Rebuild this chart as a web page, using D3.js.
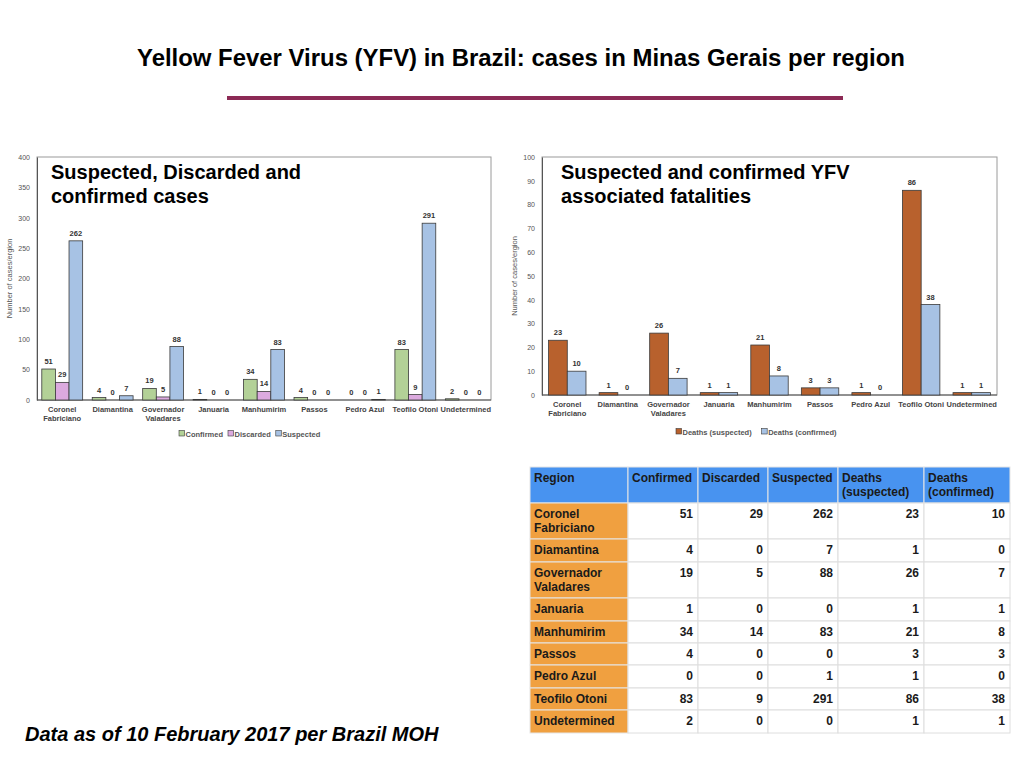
<!DOCTYPE html>
<html>
<head>
<meta charset="utf-8">
<script src="https://cdn.jsdelivr.net/npm/d3@7"></script>
<style>
  body { margin: 0; background: #fff; }
  svg { display: block; font-family: "Liberation Sans", Arial, sans-serif; }
</style>
</head>
<body>
<div id="vis"></div>
<script>
// YFV Minas Gerais per region
const regions = ["Coronel Fabriciano", "Diamantina", "Governador Valadares", "Januaria",
  "Manhumirim", "Passos", "Pedro Azul", "Teofilo Otoni", "Undetermined"];
const axisLabels = [["Coronel", "Fabriciano"], ["Diamantina"], ["Governador", "Valadares"], ["Januaria"],
  ["Manhumirim"], ["Passos"], ["Pedro Azul"], ["Teofilo  Otoni"], ["Undetermined"]];
const tableLabels = [["Coronel", "Fabriciano"], ["Diamantina"], ["Governador", "Valadares"], ["Januaria"],
  ["Manhumirim"], ["Passos"], ["Pedro Azul"], ["Teofilo Otoni"], ["Undetermined"]];

const confirmed = [51, 4, 19, 1, 34, 4, 0, 83, 2];
const discarded = [29, 0, 5, 0, 14, 0, 0, 9, 0];
const suspected = [262, 7, 88, 0, 83, 0, 1, 291, 0];
const deathsSuspected = [23, 1, 26, 1, 21, 3, 1, 86, 1];
const deathsConfirmed = [10, 0, 7, 1, 8, 3, 0, 38, 1];

const casesTicks = [0, 50, 100, 150, 200, 250, 300, 350, 400];
const deathTicks = [0, 10, 20, 30, 40, 50, 60, 70, 80, 90, 100];
const tableHeaders = [["Region"], ["Confirmed"], ["Discarded"], ["Suspected"],
  ["Deaths", "(suspected)"], ["Deaths", "(confirmed)"]];

const width = 1024, height = 768;
const svg = d3.select("#vis").append("svg")
  .attr("width", width).attr("height", height);

// Title + rule
svg.append("text")
  .attr("x", 137).attr("y", 66)
  .attr("font-size", "23px").attr("font-weight", "bold")
  .attr("textLength", 768).attr("lengthAdjust", "spacingAndGlyphs")
  .text("Yellow Fever Virus (YFV) in Brazil: cases in Minas Gerais per region");

svg.append("rect")
  .attr("x", 227).attr("y", 96).attr("width", 616).attr("height", 4)
  .attr("fill", "#8c2a55");

const small = "7.5px";

function barChart(opt) {
  const g = svg.append("g");
  const x0 = d3.scaleBand().domain(regions).range([opt.left, opt.right])
    .paddingInner(opt.pad).paddingOuter(opt.pad / 2);
  const x1 = d3.scaleBand().domain(opt.series.map(s => s.name)).range([0, x0.bandwidth()]);
  const y = d3.scaleLinear().domain([0, opt.max]).range([opt.bottom, opt.top]);

  // frame
  g.append("rect")
    .attr("x", opt.left).attr("y", opt.top)
    .attr("width", opt.right - opt.left).attr("height", opt.bottom - opt.top)
    .attr("fill", "none").attr("stroke", "#9a9a9a").attr("stroke-width", 1);

  const ya = g.append("g")
    .attr("transform", `translate(${opt.left},0)`)
    .call(d3.axisLeft(y).tickValues(opt.ticks).tickSize(0).tickPadding(7));
  ya.select(".domain").attr("stroke", "#555");
  ya.selectAll("text").attr("font-size", "7px").attr("fill", "#555")
    .attr("font-family", "'Liberation Sans', sans-serif");

  g.append("line")
    .attr("x1", opt.left).attr("x2", opt.right)
    .attr("y1", opt.bottom).attr("y2", opt.bottom)
    .attr("stroke", "#555");

  g.append("text")
    .attr("transform", `translate(${opt.left - 25},${(opt.top + opt.bottom) / 2}) rotate(-90)`)
    .attr("text-anchor", "middle")
    .attr("font-size", small).attr("fill", "#555")
    .text("Number of cases/ergion");

  // bars
  opt.series.forEach(s => {
    const grp = g.append("g");
    grp.selectAll("rect")
      .data(regions.map((r, i) => ({ r, v: s.values[i] })))
      .join("rect")
      .attr("x", d => x0(d.r) + x1(s.name))
      .attr("y", d => y(d.v))
      .attr("width", x1.bandwidth())
      .attr("height", d => opt.bottom - y(d.v))
      .attr("fill", s.color)
      .attr("stroke", d => d.v > 0 ? "#3a3a3a" : "none")
      .attr("stroke-width", 0.8);
    grp.selectAll("text")
      .data(regions.map((r, i) => ({ r, v: s.values[i] })))
      .join("text")
      .attr("x", d => x0(d.r) + x1(s.name) + x1.bandwidth() / 2)
      .attr("y", d => y(d.v) - 5)
      .attr("text-anchor", "middle")
      .attr("font-size", small).attr("font-weight", "bold").attr("fill", "#333")
      .text(d => d.v);
  });

  // category labels
  const cl = g.selectAll(".cat")
    .data(regions.map((r, i) => ({ r, lines: axisLabels[i] })))
    .join("text")
    .attr("x", d => x0(d.r) + x0.bandwidth() / 2)
    .attr("y", opt.bottom + 12)
    .attr("text-anchor", "middle")
    .attr("font-size", small).attr("font-weight", "bold").attr("fill", "#444");
  cl.selectAll("tspan").data(d => d.lines).join("tspan")
    .attr("x", function () { return d3.select(this.parentNode).attr("x"); })
    .attr("dy", (d, i) => i === 0 ? 0 : 9)
    .text(d => d);

  // chart title
  const t = g.append("text")
    .attr("x", opt.titleX).attr("y", 179)
    .attr("font-size", "20px").attr("font-weight", "bold").attr("fill", "#000");
  t.selectAll("tspan").data(opt.title).join("tspan")
    .attr("x", opt.titleX).attr("dy", (d, i) => i === 0 ? 0 : 24)
    .text(d => d);

  // legend
  const lg = g.append("g").attr("transform", `translate(${opt.legendX},${opt.legendY})`);
  let off = 0;
  opt.series.forEach(s => {
    lg.append("rect")
      .attr("x", off).attr("y", -3.5).attr("width", 5.5).attr("height", 5.5)
      .attr("fill", s.color).attr("stroke", "#3a3a3a").attr("stroke-width", 0.6);
    const tx = lg.append("text")
      .attr("x", off + 6.5).attr("y", 2.5)
      .attr("font-size", small).attr("font-weight", "bold").attr("fill", "#555")
      .text(s.name);
    off += 6.5 + tx.node().getComputedTextLength() + opt.legendGap;
  });
}

barChart({
  left: 37, right: 491, top: 157, bottom: 400, max: 400, pad: 0.19,
  ticks: casesTicks,
  series: [
    { name: "Confirmed", values: confirmed, color: "#b3d197" },
    { name: "Discarded", values: discarded, color: "#dcaadf" },
    { name: "Suspected", values: suspected, color: "#a7c2e4" }
  ],
  title: ["Suspected, Discarded and", "confirmed cases"], titleX: 51,
  legendX: 179, legendY: 434, legendGap: 5
});

barChart({
  left: 542, right: 997, top: 157, bottom: 395, max: 100, pad: 0.26,
  ticks: deathTicks,
  series: [
    { name: "Deaths (suspected)", values: deathsSuspected, color: "#b8612d" },
    { name: "Deaths (confirmed)", values: deathsConfirmed, color: "#a7c2e4" }
  ],
  title: ["Suspected and confirmed YFV", "associated fatalities"], titleX: 561,
  legendX: 676, legendY: 432, legendGap: 10
});

// Table
const colEdges = [530, 628, 698, 768, 838, 924, 1010];
const rowEdges = [467, 503, 539, 562, 598, 621, 643, 665, 688, 710, 733];
const tableRows = regions.map((r, i) =>
  [tableLabels[i], [confirmed[i]], [discarded[i]], [suspected[i]], [deathsSuspected[i]], [deathsConfirmed[i]]]);
const allRows = [tableHeaders].concat(tableRows);

const tbl = svg.append("g").attr("font-size", "12px").attr("font-weight", "bold");
allRows.forEach((row, ri) => {
  row.forEach((cell, ci) => {
    const x = colEdges[ci], w = colEdges[ci + 1] - colEdges[ci];
    const yTop = rowEdges[ri], h = rowEdges[ri + 1] - rowEdges[ri];
    const fill = ri === 0 ? "#4893f0" : (ci === 0 ? "#f0a040" : "#ffffff");
    tbl.append("rect")
      .attr("x", x).attr("y", yTop).attr("width", w).attr("height", h)
      .attr("fill", fill).attr("stroke", ri === 0 || ci === 0 ? "#e6e6e6" : "#dedede")
      .attr("stroke-width", 1);
    const right = ri > 0 && ci > 0;
    const tx = tbl.append("text")
      .attr("x", right ? x + w - 5 : x + 4)
      .attr("y", yTop + 15)
      .attr("text-anchor", right ? "end" : "start")
      .attr("fill", "#1a1a1a");
    tx.selectAll("tspan").data(cell).join("tspan")
      .attr("x", right ? x + w - 5 : x + 4)
      .attr("dy", (d, i) => i === 0 ? 0 : 14)
      .text(d => d);
  });
});

// Footnote
svg.append("text")
  .attr("x", 25).attr("y", 741)
  .attr("font-size", "20px").attr("font-weight", "bold").attr("font-style", "italic")
  .text("Data as of 10 February 2017 per Brazil MOH");
</script>
</body>
</html>
